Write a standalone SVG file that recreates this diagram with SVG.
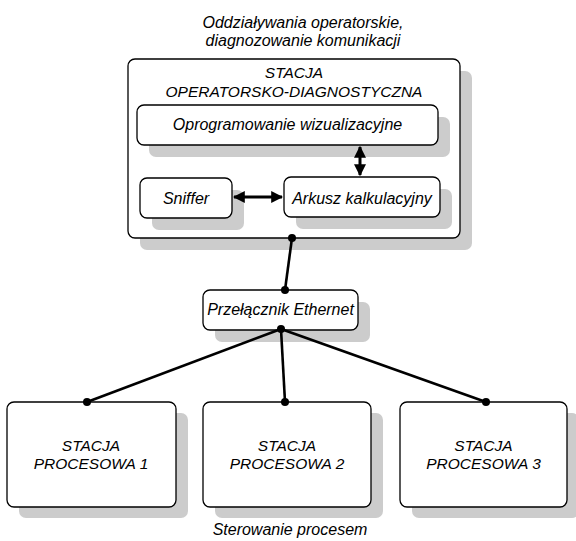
<svg xmlns="http://www.w3.org/2000/svg" width="576" height="541" viewBox="0 0 576 541">
  <style>
    .shadow { fill: #cccccc; stroke: none; }
    .box { fill: #ffffff; stroke: #000000; stroke-width: 1.3; }
    .lbl { font-family: "Liberation Sans", Arial, sans-serif; font-style: italic; font-size: 16px; fill: #000000; text-anchor: middle; }
    .cap { font-size: 15.5px; }
    .link { stroke: #000000; stroke-width: 2.6; fill: none; }
    .dot { fill: #000000; }
    .arrow { stroke: #000000; stroke-width: 3; fill: none; }
  </style>
  <defs>
    <marker id="head" viewBox="0 0 10 10" refX="9" refY="5" markerWidth="4.2" markerHeight="4" orient="auto-start-reverse" markerUnits="strokeWidth">
      <path d="M0,0 L10,5 L0,10 Z" fill="#000000"/>
    </marker>
  </defs>

  <rect width="576" height="541" fill="#ffffff"/>

  <!-- caption above the operator station -->
  <text class="lbl" x="303" y="28">Oddziaływania operatorskie,</text>
  <text class="lbl" x="303" y="46">diagnozowanie komunikacji</text>

  <!-- operator / diagnostic station with its software modules -->
  <g id="stacja-operatorska">
    <rect class="shadow" x="140" y="71" width="332" height="179" rx="7"/>
    <rect class="box" x="128" y="59" width="332" height="179" rx="7"/>
    <text class="lbl cap" x="294" y="78">STACJA</text>
    <text class="lbl cap" x="294" y="97">OPERATORSKO-DIAGNOSTYCZNA</text>
  </g>
  <g id="oprogramowanie">
    <rect class="shadow" x="149" y="117" width="301" height="40" rx="7"/>
    <rect class="box" x="137" y="105" width="301" height="40" rx="7"/>
    <text class="lbl" x="287.5" y="130">Oprogramowanie wizualizacyjne</text>
  </g>
  <g id="sniffer">
    <rect class="shadow" x="152" y="190" width="92" height="40" rx="7"/>
    <rect class="box" x="140" y="178" width="92" height="40" rx="7"/>
    <text class="lbl" x="186" y="204">Sniffer</text>
  </g>
  <g id="arkusz">
    <rect class="shadow" x="296" y="189" width="156" height="40" rx="7"/>
    <rect class="box" x="284" y="177" width="156" height="40" rx="7"/>
    <text class="lbl" x="362" y="204">Arkusz kalkulacyjny</text>
  </g>

  <!-- Ethernet switch -->
  <g id="przelacznik">
    <rect class="shadow" x="215" y="302" width="155" height="40" rx="7"/>
    <rect class="box" x="203" y="290" width="155" height="40" rx="7"/>
    <text class="lbl" x="280.5" y="315">Przełącznik Ethernet</text>
  </g>

  <!-- process stations -->
  <g id="stacja-procesowa-1">
    <rect class="shadow" x="19" y="413" width="169" height="105" rx="7"/>
    <rect class="box" x="7" y="402" width="169" height="105" rx="7"/>
    <text class="lbl cap" x="91" y="451">STACJA</text>
    <text class="lbl cap" x="91" y="469">PROCESOWA 1</text>
  </g>
  <g id="stacja-procesowa-2">
    <rect class="shadow" x="215" y="413" width="168" height="105" rx="7"/>
    <rect class="box" x="203" y="402" width="168" height="105" rx="7"/>
    <text class="lbl cap" x="287" y="451">STACJA</text>
    <text class="lbl cap" x="287" y="469">PROCESOWA 2</text>
  </g>
  <g id="stacja-procesowa-3">
    <rect class="shadow" x="412" y="413" width="167" height="105" rx="7"/>
    <rect class="box" x="400" y="402" width="167" height="105" rx="7"/>
    <text class="lbl cap" x="483.5" y="451">STACJA</text>
    <text class="lbl cap" x="483.5" y="469">PROCESOWA 3</text>
  </g>

  <!-- caption below the process stations -->
  <text class="lbl" x="290" y="535">Sterowanie procesem</text>

  <!-- connectors -->
  <g id="connectors">
    <line class="arrow" x1="360" y1="147" x2="360" y2="175" marker-start="url(#head)" marker-end="url(#head)"/>
    <line class="arrow" x1="234" y1="197" x2="282" y2="197" marker-start="url(#head)" marker-end="url(#head)"/>

    <line class="link" x1="292" y1="238" x2="285" y2="290"/>
    <line class="link" x1="281" y1="329" x2="87" y2="402"/>
    <line class="link" x1="281" y1="329" x2="285" y2="402"/>
    <line class="link" x1="281" y1="329" x2="486" y2="402"/>

    <circle class="dot" cx="292" cy="238" r="4"/>
    <circle class="dot" cx="285" cy="290" r="4"/>
    <circle class="dot" cx="281" cy="329" r="4"/>
    <circle class="dot" cx="87" cy="402" r="4"/>
    <circle class="dot" cx="285" cy="402" r="4"/>
    <circle class="dot" cx="486" cy="402" r="4"/>
  </g>
</svg>
